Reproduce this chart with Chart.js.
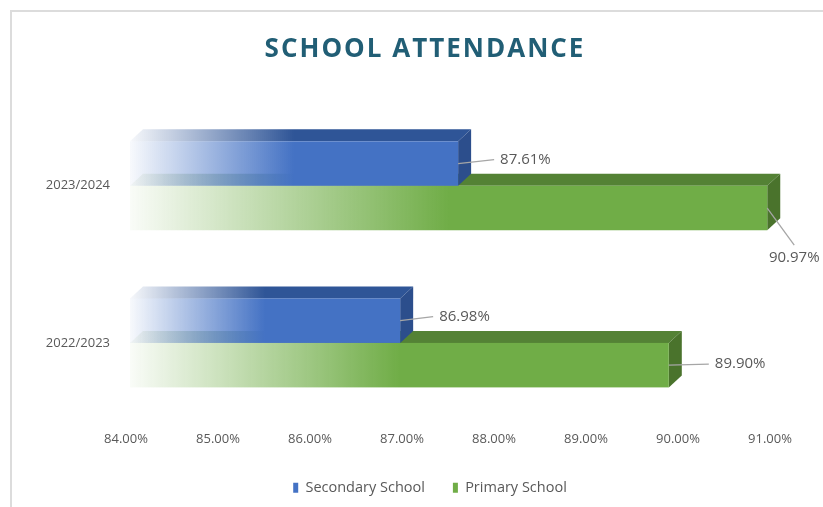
<!DOCTYPE html>
<html>
<head>
<meta charset="utf-8">
<script src="https://cdn.jsdelivr.net/npm/chart.js@4"></script>
<style>
  html, body { margin: 0; padding: 0; background: #fff; }
  #frame { position: absolute; left: 10px; top: 10px; width: 900px; height: 600px;
           border-left: 2px solid #dcdcdc; border-top: 2px solid #dcdcdc; }
  #grafico { position: absolute; left: 0; top: 0; }
</style>
</head>
<body>
<div id="frame"></div>
<canvas id="grafico" width="823" height="507"></canvas>
<script>
// datos
let anios = ['2023/2024', '2022/2023'];
let secundaria = [87.61, 86.98];
let primaria = [90.97, 89.90];
let ticksX = [84, 85, 86, 87, 88, 89, 90, 91];

// colores: frente, cara superior, cara lateral
let azul = { front: [68, 114, 196], top: [47, 85, 151], side: [44, 78, 140] };
let verde = { front: [112, 173, 71], top: [84, 130, 53], side: [74, 115, 44] };
let estilos = [azul, verde];

// posicion de etiquetas [dx, dy, alineacion]
let etiquetas = [
  [[42, -4, 'left'], [39, -4, 'left']],
  [[27, 50, 'center'], [46, -1, 'left']]
];

let gris = '#595959';
let dx3 = 13, dy3 = 12;

function rgba(c, a) { return 'rgba(' + c[0] + ',' + c[1] + ',' + c[2] + ',' + a + ')'; }

function gradiente(ctx, x0, x1, c) {
  let g = ctx.createLinearGradient(x0, 0, x1, 0);
  g.addColorStop(0, rgba(c, 0.04));
  g.addColorStop(0.5, rgba(c, 1));
  g.addColorStop(1, rgba(c, 1));
  return g;
}

function barra3d(ctx, left, right, top, bottom, est) {
  // cara superior
  ctx.beginPath();
  ctx.moveTo(left, top);
  ctx.lineTo(left + dx3, top - dy3);
  ctx.lineTo(right + dx3, top - dy3);
  ctx.lineTo(right, top);
  ctx.closePath();
  ctx.fillStyle = gradiente(ctx, left, right, est.top);
  ctx.fill();
  // cara lateral
  ctx.beginPath();
  ctx.moveTo(right, top);
  ctx.lineTo(right + dx3, top - dy3);
  ctx.lineTo(right + dx3, bottom - dy3);
  ctx.lineTo(right, bottom);
  ctx.closePath();
  ctx.fillStyle = rgba(est.side, 1);
  ctx.fill();
  // frente
  ctx.fillStyle = gradiente(ctx, left, right, est.front);
  ctx.fillRect(left, top, right - left, bottom - top);
}

let barras3d = {
  id: 'barras3d',
  beforeDatasetDraw() { return false; },
  afterDatasetsDraw(chart) {
    let ctx = chart.ctx;
    let area = chart.chartArea;
    ctx.save();
    for (let d = chart.data.datasets.length - 1; d >= 0; d--) {
      let meta = chart.getDatasetMeta(d);
      meta.data.forEach(function (bar) {
        let left = Math.max(bar.base, area.left) + 4;
        let top = bar.y - bar.height / 2;
        barra3d(ctx, left, bar.x, top, top + bar.height, estilos[d]);
      });
    }
    // etiquetas de datos
    ctx.font = '15px "Open Sans"';
    ctx.textBaseline = 'middle';
    for (let d = 0; d < chart.data.datasets.length; d++) {
      let meta = chart.getDatasetMeta(d);
      meta.data.forEach(function (bar, i) {
        let e = etiquetas[d][i];
        let lx = bar.x + e[0], ly = bar.y + e[1];
        ctx.strokeStyle = '#a6a6a6';
        ctx.lineWidth = 1.3;
        ctx.beginPath();
        ctx.moveTo(bar.x, bar.y);
        if (e[2] === 'left') ctx.lineTo(lx - 6, ly);
        else ctx.lineTo(lx, ly - 13);
        ctx.stroke();
        ctx.fillStyle = gris;
        ctx.textAlign = e[2];
        let v = chart.data.datasets[d].data[i];
        ctx.fillText(v.toFixed(2) + '%', lx, ly);
      });
    }
    ctx.restore();
  }
};

let grafica = document.getElementById('grafico').getContext('2d');
let parametros = {
  type: 'bar',
  data: {
    labels: anios,
    datasets: [
      { label: 'Secondary School', backgroundColor: rgba(azul.front, 1), data: secundaria },
      { label: 'Primary School', backgroundColor: rgba(verde.front, 1), data: primaria }
    ]
  },
  options: {
    indexAxis: 'y',
    responsive: false,
    animation: false,
    categoryPercentage: 0.566,
    barPercentage: 1,
    layout: { padding: { left: 0, right: 53, top: 0, bottom: 4 } },
    scales: {
      x: {
        min: 84, max: 91,
        grid: { display: false, drawTicks: false },
        border: { display: false },
        afterBuildTicks: function (s) { s.ticks = ticksX.map(v => ({ value: v })); },
        afterFit: function (s) { s.height = 29; },
        ticks: {
          padding: 10, color: gris, font: { family: 'Open Sans', size: 13 },
          callback: v => v.toFixed(2) + '%'
        }
      },
      y: {
        grid: { display: false, drawTicks: false },
        border: { display: false },
        afterFit: function (s) { s.width = 126; },
        ticks: { padding: 16, color: gris, font: { family: 'Open Sans', size: 13 } }
      }
    },
    plugins: {
      title: {
        display: true, text: 'SCHOOL ATTENDANCE', color: '#215e75',
        font: { family: 'Open Sans', size: 26, weight: 'bold' },
        padding: { top: 34, bottom: 42 }
      },
      legend: {
        position: 'bottom',
        labels: { boxWidth: 5, boxHeight: 10, color: gris, padding: 28,
                  font: { family: 'Open Sans', size: 14.5 } }
      },
      tooltip: { enabled: false }
    }
  },
  plugins: [barras3d]
};
let grafico = new Chart(grafica, parametros);

// titulo con espaciado y desplazado
let bloque = grafico.titleBlock;
let dibujar = bloque.draw.bind(bloque);
bloque.draw = function () {
  let c = grafico.ctx;
  c.save();
  c.translate(40, 0);
  c.letterSpacing = '2px';
  dibujar();
  c.restore();
};
// leyenda desplazada
let leyenda = grafico.legend;
let dibujarLeyenda = leyenda.draw.bind(leyenda);
leyenda.draw = function () {
  let c = grafico.ctx;
  c.save();
  c.translate(45, 2);
  dibujarLeyenda();
  c.restore();
};
grafico.render();
</script>
</body>
</html>
